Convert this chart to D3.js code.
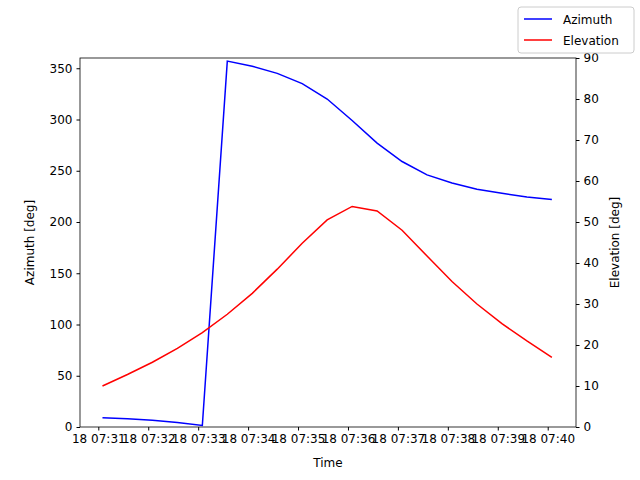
<!DOCTYPE html>
<html><head><meta charset="utf-8">
<script src="https://cdn.jsdelivr.net/npm/d3@7"></script>
<style>body{margin:0;background:#fff}text{font-family:"DejaVu Sans",sans-serif}</style>
</head><body><svg id="c" width="640" height="480"></svg>
<script>
const times = ["07:31:05","07:31:35","07:32:05","07:32:35","07:33:05","07:33:35","07:34:05","07:34:35","07:35:05","07:35:35","07:36:05","07:36:35","07:37:05","07:37:35","07:38:05","07:38:35","07:39:05","07:39:35","07:40:05"];
const azimuth = [9,8,6.5,4.5,1.5,357,352,345,335,320,299,277,259,246,238,232,228,224.5,222];
const elevation = [10,12.8,15.8,19.2,23,27.5,32.6,38.5,44.8,50.5,53.8,52.7,48,41.7,35.5,30,25.2,21,17];
const xTickLabels = ["18 07:31","18 07:32","18 07:33","18 07:34","18 07:35","18 07:36","18 07:37","18 07:38","18 07:39","18 07:40"];

const parse = s => { const [h,m,sec] = s.split(":").map(Number); return new Date(2020,0,18,h,m,sec); };
const L=80,R=576,T=58,B=427;
const svg=d3.select("#c");
const x=d3.scaleTime().domain([new Date(2020,0,18,7,30,38.4), new Date(2020,0,18,7,40,34)]).range([L,R]);
const yl=d3.scaleLinear().domain([0,360]).range([B,T]);
const yr=d3.scaleLinear().domain([0,90]).range([B,T]);
const tickDates = xTickLabels.map(s=>parse(s.split(" ")[1]+":00"));
svg.append("g").attr("transform",`translate(0,${B})`).call(d3.axisBottom(x).tickValues(tickDates).tickFormat((d,i)=>xTickLabels[i]).tickSizeOuter(0).tickSize(3.5).tickPadding(4));
svg.append("g").attr("transform",`translate(${L},0)`).call(d3.axisLeft(yl).tickValues(d3.range(0,351,50)).tickSizeOuter(0).tickSize(3.5).tickPadding(4));
svg.append("g").attr("transform",`translate(${R},0)`).call(d3.axisRight(yr).tickValues(d3.range(0,91,10)).tickSizeOuter(0).tickSize(3.5).tickPadding(4));
svg.selectAll(".tick text").attr("font-size",12).attr("fill","#000");
svg.selectAll(".domain").remove();
svg.append("rect").attr("x",L).attr("y",T).attr("width",R-L).attr("height",B-T).attr("fill","none").attr("stroke","#000").attr("stroke-width",0.8);
const ld=d3.line().x((d,i)=>x(parse(times[i])));
svg.append("path").datum(azimuth).attr("d",ld.y(d=>yl(d))).attr("fill","none").attr("stroke","blue").attr("stroke-width",1.5);
svg.append("path").datum(elevation).attr("d",ld.y(d=>yr(d))).attr("fill","none").attr("stroke","red").attr("stroke-width",1.5);
svg.append("text").attr("x",(L+R)/2).attr("y",467).attr("text-anchor","middle").attr("font-size",12).text("Time");
svg.append("text").attr("transform",`translate(34,${(T+B)/2}) rotate(-90)`).attr("text-anchor","middle").attr("font-size",12).text("Azimuth [deg]");
svg.append("text").attr("transform",`translate(619,${(T+B)/2}) rotate(-90)`).attr("text-anchor","middle").attr("font-size",12).text("Elevation [deg]");
const lg=svg.append("g");
lg.append("rect").attr("x",518).attr("y",7).attr("width",116).attr("height",46).attr("rx",3).attr("fill","#fff").attr("stroke","#ccc");
[["Azimuth","blue"],["Elevation","red"]].forEach(([n,c],i)=>{
  const y=19+i*21;
  lg.append("line").attr("x1",524).attr("x2",552).attr("y1",y).attr("y2",y).attr("stroke",c).attr("stroke-width",1.5);
  lg.append("text").attr("x",563).attr("y",y+4.5).attr("font-size",12).text(n);
});
</script></body></html>
